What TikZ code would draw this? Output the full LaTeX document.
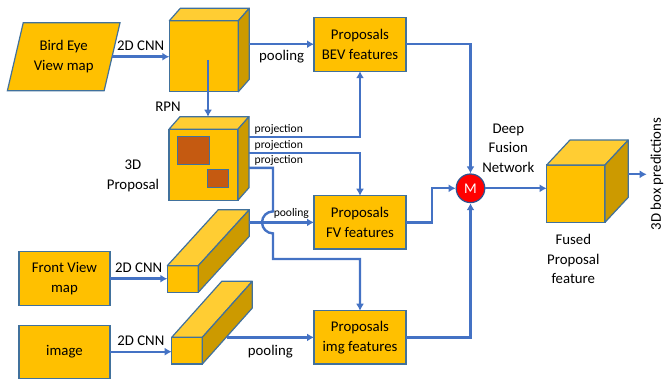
\documentclass[tikz,border=0pt]{standalone}
\usepackage{fontspec}
\setmainfont{Carlito}
\usetikzlibrary{shapes.geometric,calc,arrows.meta}

\definecolor{boxfill}{HTML}{FFC000}
\definecolor{boxline}{HTML}{41719C}
\definecolor{topfill}{HTML}{FFCD33}
\definecolor{sidefill}{HTML}{CC9A00}
\definecolor{flowblue}{HTML}{4472C4}
\definecolor{boxbrown}{HTML}{C55A11}
\definecolor{mred}{HTML}{FF0000}
\definecolor{mborder}{HTML}{2F528F}

\newcommand{\bigtxt}{\fontsize{14.8}{19.5}\selectfont}
\newcommand{\smalltxt}{\fontsize{11.6}{13}\selectfont}

\tikzset{
	blk/.style={draw=boxline,fill=boxfill,line width=1.2pt,inner sep=0pt,outer sep=0pt,align=center,font=\bigtxt},
	cubetop/.style={draw=boxline,fill=topfill,line width=1.2pt,line join=round},
	cubeside/.style={draw=boxline,fill=sidefill,line width=1.2pt,line join=round},
	flow/.style={draw=flowblue,line width=2.4pt,->},
	lbl/.style={font=\bigtxt,align=center,inner sep=0pt},
	slbl/.style={font=\smalltxt,inner sep=0pt},
}

\begin{document}
\begin{tikzpicture}[>={Latex[length=7pt,width=8pt]},x=1pt,y=-1pt]
	\useasboundingbox (0,0) rectangle (664,379);
	% inputs
	\node[blk,trapezium,trapezium left angle=70,trapezium right angle=110,trapezium stretches=true,minimum width=113pt,minimum height=68pt] (bev) at (63.7,56.7) {Bird Eye\\View map};
	\node[blk,minimum width=91pt,minimum height=54pt] (fvmap) at (64.5,278.7) {Front View\\map};
	\node[blk,minimum width=91pt,minimum height=53pt] (imgmap) at (64.5,351.7) {image};
	% bev cnn
	\node[blk,minimum width=69pt,minimum height=71pt] (cnnbev) at (203.8,56.3) {};
	\draw[cubetop] (cnnbev.north west) -- ++(11,-12.5) -- ($(cnnbev.north east)+(11,-12.5)$) coordinate (cnnbev-bne) -- (cnnbev.north east) -- cycle;
	\draw[cubeside] (cnnbev.north east) -- (cnnbev-bne) -- ($(cnnbev.south east)+(11,-12.5)$) -- (cnnbev.south east) -- cycle;
	% 3d proposal
	\node[blk,minimum width=69pt,minimum height=71pt] (prop) at (203.5,164.7) {};
	\draw[cubetop] (prop.north west) -- ++(11,-12.5) -- ($(prop.north east)+(11,-12.5)$) coordinate (prop-bne) -- (prop.north east) -- cycle;
	\draw[cubeside] (prop.north east) -- (prop-bne) -- ($(prop.south east)+(11,-12.5)$) -- (prop.south east) -- cycle;
	\node[draw=boxline,fill=boxbrown,line width=1pt,inner sep=0pt,minimum width=31.6pt,minimum height=28.3pt] (roi1) at ($(prop)+(-10,-14.5)$) {};
	\node[draw=boxline,fill=boxbrown,line width=1pt,inner sep=0pt,minimum width=21pt,minimum height=18.3pt] (roi2) at ($(prop)+(14.7,13.5)$) {};
	% fv cnn
	\node[blk,minimum width=31pt,minimum height=26.6pt] (fvcube) at (182.8,279) {};
	\draw[cubetop] (fvcube.north west) -- ++(51,-56) -- ($(fvcube.north east)+(51,-56)$) coordinate (fvcube-bne) -- (fvcube.north east) -- cycle;
	\draw[cubeside] (fvcube.north east) -- (fvcube-bne) -- ($(fvcube.south east)+(51,-56)$) -- (fvcube.south east) -- cycle;
	% img cnn
	\node[blk,minimum width=30.6pt,minimum height=26.7pt] (imgcube) at (187,350.7) {};
	\draw[cubetop] (imgcube.north west) -- ++(50,-56) -- ($(imgcube.north east)+(50,-56)$) coordinate (imgcube-bne) -- (imgcube.north east) -- cycle;
	\draw[cubeside] (imgcube.north east) -- (imgcube-bne) -- ($(imgcube.south east)+(50,-56)$) -- (imgcube.south east) -- cycle;
	% proposal features
	\node[blk,minimum width=92pt,minimum height=54pt] (bevfeat) at (360,44.2) {Proposals\\BEV features};
	\node[blk,minimum width=92pt,minimum height=53.3pt] (fvfeat) at (360,222.4) {Proposals\\FV features};
	\node[blk,minimum width=92pt,minimum height=53.3pt] (imgfeat) at (360,337.4) {Proposals\\img features};
	% fusion
	\node[circle,draw=mborder,fill=mred,line width=1.2pt,minimum size=28.6pt,inner sep=0pt,font=\bigtxt,text=white] (merge) at (470.5,188.3) {M};
	\node[blk,minimum width=58.3pt,minimum height=57.3pt] (fused) at (575.8,193.7) {};
	\draw[cubetop] (fused.north west) -- ++(23.3,-25) -- ($(fused.north east)+(23.3,-25)$) coordinate (fused-bne) -- (fused.north east) -- cycle;
	\draw[cubeside] (fused.north east) -- (fused-bne) -- ($(fused.south east)+(23.3,-25)$) -- (fused.south east) -- cycle;

	% connectors
	\draw[flow] (bev.east) -- (bev.east -| cnnbev.west) node[lbl,midway,above=5pt] {2D CNN};
	\draw[flow] (cnnbev-bne |- bevfeat.west) -- (bevfeat.west) node[lbl,midway,below=5pt] {pooling};
	\coordinate (rpn) at (208,60);
	\draw[flow] (rpn) -- (rpn |- prop-bne);
	\node[lbl] (rpnlbl) at (168,107) {RPN};
	\node[lbl] (proplbl) at (133,176) {3D\\Proposal};
	\draw[flow] ($(prop-bne)+(0,20.2)$) node[slbl,anchor=south west,xshift=4.5pt,yshift=1.5pt] {projection} -| (bevfeat.south);
	\draw[flow] ($(prop-bne)+(0,36.2)$) node[slbl,anchor=south west,xshift=4.5pt,yshift=1.5pt] {projection} -| (fvfeat.north);
	\coordinate (pj3) at ($(prop-bne)+(0,51.2)$);
	\coordinate (hop) at ($(pj3)+(24,0)$);
	\draw[flow] (pj3) node[slbl,anchor=south west,xshift=4.5pt,yshift=1.5pt] {projection} -- (hop) -- ($(hop |- fvfeat.west)+(0,-11)$) arc(270:90:11) -- ($(hop |- fvfeat.south)+(0,10)$) -| (imgfeat.north);
	\draw[flow] (fvcube-bne |- fvfeat.west) -- (fvfeat.west) node[slbl,pos=0.65,above=3pt] {pooling};
	\draw[flow] (fvmap.east) -- (fvmap.east -| fvcube.west) node[lbl,midway,above=5pt] {2D CNN};
	\draw[flow] (imgmap.east) -- (imgmap.east -| imgcube.west) node[lbl,midway,above=5pt] {2D CNN};
	\draw[flow] ($(imgcube.east |- imgfeat.west)+(24.4,0)$) -- (imgfeat.west) node[lbl,midway,below=7pt] {pooling};
	\draw[flow] (bevfeat.east) -| (merge.north);
	\draw[flow] (fvfeat.east) -- ++(25.7,0) |- (merge.west);
	\draw[flow] (imgfeat.east) -| (merge.south);
	\draw[flow] (merge.east) -- (merge.east -| fused.west);
	\node[lbl] (dfn) at (508.3,148) {Deep\\Fusion\\Network};
	\node[lbl] (fusedlbl) at (573.3,259) {Fused\\Proposal\\feature};
	\coordinate (pred) at (646.7,174.3);
	\draw[flow] (fused-bne |- pred) -- (pred);
	\node[lbl,rotate=90] (predlbl) at (657,174) {3D box predictions};
\end{tikzpicture}
\end{document}
